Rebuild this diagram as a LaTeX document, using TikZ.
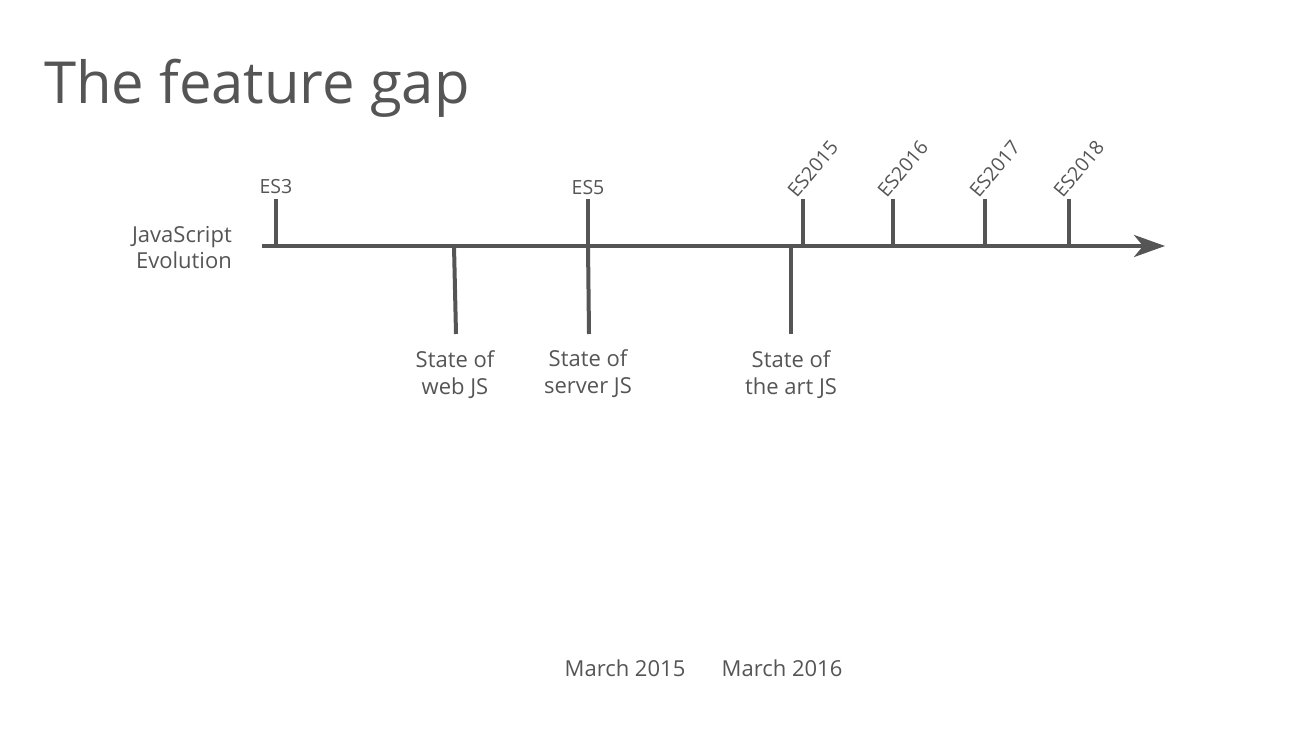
\documentclass[tikz,border=0pt]{standalone}
\usepackage{fontspec}
\setmainfont{Open Sans}
\usetikzlibrary{arrows.meta}
\definecolor{ink}{HTML}{555555}
\tikzset{
  axis/.style={line width=4pt, draw=ink},
  tick/.style={line width=4pt, draw=ink},
  lbl/.style={text=ink, font=\fontsize{19.5}{22}\selectfont, inner sep=0pt},
  rlbl/.style={lbl, rotate=50, anchor=south west},
  state/.style={text=ink, font=\fontsize{22}{27}\selectfont, align=center, inner sep=0pt, anchor=north},
  date/.style={text=ink, font=\fontsize{22}{26}\selectfont, inner sep=0pt},
}
\begin{document}
\begin{tikzpicture}[x=1pt,y=1pt]
\useasboundingbox[fill=white] (0,0) rectangle (1305,-733);
\node[text=ink, font=\fontsize{58}{64}\selectfont, anchor=base west, inner sep=0pt] (title) at (44,-103) {The feature gap};
% axis
\coordinate (a0) at (262,-246);
\coordinate (a1) at (1165,-246);
\draw[axis, -{Stealth[length=31pt, width=22pt, inset=9pt]}] (a0) -- (a1);
\node[lbl, anchor=north east, font=\fontsize{22}{26}\selectfont, align=right] (jse) at (232,-226) {JavaScript\\Evolution};
% upper ticks
\foreach \n/\x in {es3/276, es5/588, e15/803, e16/893, e17/985, e18/1069}{
  \coordinate (\n b) at (\x,-246);
  \coordinate (\n t) at (\x,-199);
  \draw[tick] (\n b) -- (\n t);
}
\node[lbl, anchor=base] (les3) at (276,-193) {ES3};
\node[lbl, anchor=base] (les5) at (588,-194) {ES5};
\node[rlbl] (l15) at (797,-199) {ES2015};
\node[rlbl] (l16) at (887,-199) {ES2016};
\node[rlbl] (l17) at (979,-199) {ES2017};
\node[rlbl] (l18) at (1063,-199) {ES2018};
% lower ticks
\coordinate (w0) at (454,-246); \coordinate (w1) at (456,-334);
\coordinate (s0) at (588,-246); \coordinate (s1) at (589,-334);
\coordinate (r0) at (791,-246); \coordinate (r1) at (791,-334);
\draw[tick] (w0) -- (w1);
\draw[tick] (s0) -- (s1);
\draw[tick] (r0) -- (r1);
\node[state] (web) at (455,-350) {State of\\web JS};
\node[state] (srv) at (588,-349) {State of\\server JS};
\node[state] (art) at (791,-350) {State of\\the art JS};
% dates
\node[date] (m15) at (625,-668) {March 2015};
\node[date] (m16) at (782,-668) {March 2016};
\end{tikzpicture}
\end{document}
